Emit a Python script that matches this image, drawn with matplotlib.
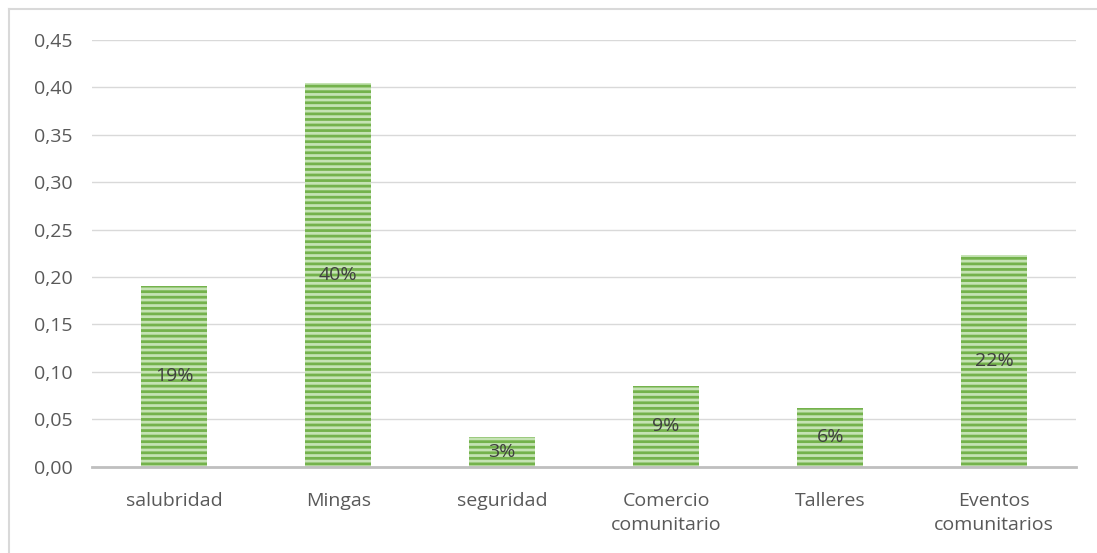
import matplotlib
matplotlib.use("Agg")
import matplotlib.pyplot as plt
from matplotlib.lines import Line2D
import matplotlib.ticker as ticker

# ── data ──────────────────────────────────────────────────────────────────────
categories = ["salubridad", "Mingas", "seguridad", "Comercio\ncomunitario",
              "Talleres", "Eventos\ncomunitarios"]
values = [0.191, 0.404, 0.031, 0.085, 0.062, 0.223]
labels = ["19%", "40%", "3%", "9%", "6%", "22%"]

# ── style ─────────────────────────────────────────────────────────────────────
plt.rcParams.update({
    "font.family": "Open Sans",
    "font.size": 14,
    "hatch.linewidth": 2.0,
})
TEXT = "#595959"
FACE = "#c5e3b4"
HATCH = "#74b24c"

fig = plt.figure(figsize=(10.97, 5.53), dpi=100)
# outer chart border (only top/left visible in the crop)
fig.lines.append(Line2D([0.0085, 1.0], [0.983, 0.983], transform=fig.transFigure,
                        color="#d9d9d9", linewidth=1.5))
fig.lines.append(Line2D([0.0085, 0.0085], [0.0, 0.983], transform=fig.transFigure,
                        color="#d9d9d9", linewidth=1.5))
ax = fig.add_axes([0.084, 0.156, 0.897, 0.772])

x = list(range(len(categories)))
ax.bar(x, values, width=0.4, color=FACE, edgecolor=HATCH, hatch="---",
       linewidth=0, zorder=3)

for xi, v, lab in zip(x, values, labels):
    ax.text(xi, v / 2, lab, ha="center", va="center", color="#404040",
            fontsize=14, zorder=4)

ax.set_xlim(-0.5, len(categories) - 0.5)
ax.set_ylim(0, 0.45)
ax.yaxis.set_major_locator(ticker.MultipleLocator(0.05))
ax.yaxis.set_major_formatter(ticker.FuncFormatter(lambda v, p: f"{v:.2f}".replace(".", ",")))
ax.set_xticks(x)
ax.set_xticklabels(categories, color=TEXT, linespacing=1.45)
ax.tick_params(axis="y", length=0, pad=14, colors=TEXT)
ax.tick_params(axis="x", length=0, pad=18, colors=TEXT)
ax.grid(axis="y", color="#d9d9d9", linewidth=1, zorder=0)
for s in ["top", "right", "left"]:
    ax.spines[s].set_visible(False)
ax.spines["bottom"].set_color("#bfbfbf")
ax.spines["bottom"].set_linewidth(2)
ax.spines["bottom"].set_zorder(5)

fig.savefig("out.png", dpi=100)
